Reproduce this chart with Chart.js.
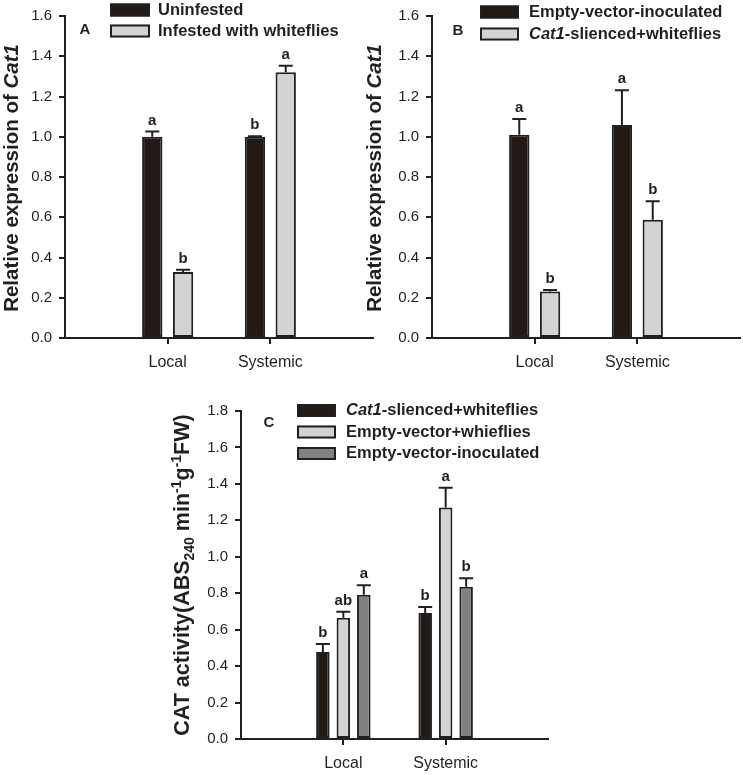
<!DOCTYPE html>
<html>
<head>
<meta charset="utf-8">
<script src="https://cdn.jsdelivr.net/npm/chart.js@4.4.0/dist/chart.umd.min.js"></script>
<style>
  body { margin: 0; background: #fff; }
  #wrap { position: relative; width: 743px; height: 775px; overflow: hidden; }
  canvas { position: absolute; }
</style>
</head>
<body>
<div id="wrap">
  <canvas id="chartA" width="375" height="375" style="left:0px;top:0px"></canvas>
  <canvas id="chartB" width="393" height="375" style="left:350px;top:0px"></canvas>
  <canvas id="chartC" width="400" height="405" style="left:160px;top:370px"></canvas>
</div>
<script>
const categories = ['Local', 'Systemic'];
const ticksAB = [0.0, 0.2, 0.4, 0.6, 0.8, 1.0, 1.2, 1.4, 1.6];
const ticksC = [0.0, 0.2, 0.4, 0.6, 0.8, 1.0, 1.2, 1.4, 1.6, 1.8];

// panel A
const aUninfested = [1.00, 1.00];
const aUninfestedErr = [0.026, 0.002];
const aUninfestedSig = ['a', 'b'];
const aInfested = [0.328, 1.320];
const aInfestedErr = [0.011, 0.033];
const aInfestedSig = ['b', 'a'];

// panel B
const bEmpty = [1.010, 1.059];
const bEmptyErr = [0.078, 0.172];
const bEmptySig = ['a', 'a'];
const bSilenced = [0.231, 0.587];
const bSilencedErr = [0.007, 0.092];
const bSilencedSig = ['b', 'b'];

// panel C
const cSilenced = [0.477, 0.692];
const cSilencedErr = [0.044, 0.033];
const cSilencedSig = ['b', 'b'];
const cEmptyWf = [0.665, 1.270];
const cEmptyWfErr = [0.033, 0.109];
const cEmptyWfSig = ['ab', 'a'];
const cEmptyInoc = [0.791, 0.836];
const cEmptyInocErr = [0.053, 0.046];
const cEmptyInocSig = ['a', 'b'];

const FONT = '"Liberation Sans", Arial, sans-serif';
const INK = '#231f20';
const BLACK = '#211a17';
const LIGHT = '#d3d3d3';
const DARK = '#818181';

function points(vals) {
  return vals.map((v, i) => ({ x: i + 1, y: v }));
}

function dataset(vals, errs, sig, fill) {
  return {
    data: points(vals),
    errors: errs,
    letters: sig,
    backgroundColor: fill,
    borderColor: INK,
    borderWidth: 2,
    borderSkipped: false,
    categoryPercentage: 0.6,
    barPercentage: 0.66
  };
}

// half error bars (upward) + significance letters
const errorBars = {
  id: 'errorBars',
  afterDatasetsDraw(chart) {
    const ctx = chart.ctx;
    const y = chart.scales.y;
    chart.data.datasets.forEach((ds, di) => {
      chart.getDatasetMeta(di).data.forEach((bar, i) => {
        const top = y.getPixelForValue(ds.data[i].y + ds.errors[i]);
        ctx.save();
        ctx.strokeStyle = INK;
        ctx.lineWidth = 2;
        ctx.beginPath();
        ctx.moveTo(bar.x, bar.y);
        ctx.lineTo(bar.x, top);
        ctx.moveTo(bar.x - 7, top);
        ctx.lineTo(bar.x + 7, top);
        ctx.stroke();
        ctx.fillStyle = INK;
        ctx.font = 'bold 15px ' + FONT;
        ctx.textAlign = 'center';
        ctx.textBaseline = 'alphabetic';
        ctx.fillText(ds.letters[i], bar.x, top - 7);
        ctx.restore();
      });
    });
  }
};

function drawRuns(ctx, runs, x, y, center) {
  let total = 0;
  runs.forEach(r => { ctx.font = r.font; r.w = ctx.measureText(r.text).width; total += r.w; });
  let cx = center ? x - total / 2 : x;
  runs.forEach(r => {
    ctx.font = r.font;
    ctx.fillText(r.text, cx, y + (r.dy || 0));
    cx += r.w;
  });
}

function makeDecor(cfg) {
  return {
    id: 'decor',
    afterDraw(chart) {
      const ctx = chart.ctx;
      ctx.save();
      ctx.fillStyle = INK;
      ctx.textAlign = 'left';
      // legend
      ctx.textBaseline = 'middle';
      cfg.legend.forEach(item => {
        ctx.fillStyle = item.fill;
        ctx.fillRect(cfg.boxX, item.y - 6.5, cfg.boxW, 13);
        ctx.strokeStyle = INK;
        ctx.lineWidth = 2;
        ctx.strokeRect(cfg.boxX + 1, item.y - 5.5, cfg.boxW - 2, 11);
        ctx.fillStyle = INK;
        drawRuns(ctx, item.runs, cfg.textX, item.y, false);
      });
      // panel letter
      ctx.font = 'bold 15px ' + FONT;
      ctx.textAlign = 'center';
      ctx.fillText(cfg.panel, cfg.panelX, cfg.panelY);
      // y title
      ctx.textAlign = 'left';
      ctx.textBaseline = 'alphabetic';
      ctx.translate(cfg.titleX, cfg.titleY);
      ctx.rotate(-Math.PI / 2);
      drawRuns(ctx, cfg.title, 0, 0, true);
      ctx.restore();
    }
  };
}

const B16 = 'bold 16.5px ' + FONT;
const BI16 = 'italic bold 16.5px ' + FONT;
const B20 = 'bold 20.5px ' + FONT;
const BI20 = 'italic bold 20.5px ' + FONT;
const B21 = 'bold 21.5px ' + FONT;
const S14 = 'bold 14px ' + FONT;

function makeChart(id, datasets, yTicks, yWidth, pad, xHeight, decor) {
  const ctx = document.getElementById(id).getContext('2d');
  return new Chart(ctx, {
    type: 'bar',
    data: { datasets: datasets },
    options: {
      responsive: false,
      animation: false,
      devicePixelRatio: 1,
      layout: { padding: pad },
      plugins: { legend: { display: false }, tooltip: { enabled: false } },
      scales: {
        x: {
          type: 'linear',
          offset: false,
          min: 0,
          max: 3,
          afterBuildTicks: s => { s.ticks = categories.map((c, i) => ({ value: i + 1 })); },
          afterFit: s => { s.height = xHeight; },
          ticks: {
            autoSkip: false,
            maxRotation: 0,
            padding: 9,
            color: INK,
            font: { family: FONT, size: 16 },
            callback: v => categories[v - 1] || ''
          },
          grid: { offset: false, drawOnChartArea: false, tickLength: 6, color: INK, lineWidth: 2 },
          border: { color: INK, width: 2 }
        },
        y: {
          min: yTicks[0],
          max: yTicks[yTicks.length - 1],
          afterBuildTicks: s => { s.ticks = yTicks.map(v => ({ value: v })); },
          afterFit: s => { s.width = yWidth; },
          ticks: {
            padding: 7,
            color: INK,
            font: { family: FONT, size: 15 },
            callback: v => v.toFixed(1)
          },
          grid: { drawOnChartArea: false, tickLength: 6, color: INK, lineWidth: 2 },
          border: { color: INK, width: 2 }
        }
      }
    },
    plugins: [errorBars, makeDecor(decor)]
  });
}

makeChart('chartA', [
  dataset(aUninfested, aUninfestedErr, aUninfestedSig, BLACK),
  dataset(aInfested, aInfestedErr, aInfestedSig, LIGHT)
], ticksAB, 65, { top: 10, right: 2, left: 0, bottom: 0 }, 37, {
  boxX: 110, boxW: 40, textX: 158,
  legend: [
    { fill: BLACK, y: 10, runs: [{ text: 'Uninfested', font: B16 }] },
    { fill: LIGHT, y: 31, runs: [{ text: 'Infested with whiteflies', font: B16 }] }
  ],
  panel: 'A', panelX: 85, panelY: 30,
  titleX: 18, titleY: 178,
  title: [{ text: 'Relative expression of ', font: B20 }, { text: 'Cat1', font: BI20 }]
});

makeChart('chartB', [
  dataset(bEmpty, bEmptyErr, bEmptySig, BLACK),
  dataset(bSilenced, bSilencedErr, bSilencedSig, LIGHT)
], ticksAB, 82, { top: 10, right: 3, left: 0, bottom: 0 }, 37, {
  boxX: 130, boxW: 39, textX: 179,
  legend: [
    { fill: BLACK, y: 12, runs: [{ text: 'Empty-vector-inoculated', font: B16 }] },
    { fill: LIGHT, y: 34, runs: [{ text: 'Cat1', font: BI16 }, { text: '-slienced+whiteflies', font: B16 }] }
  ],
  panel: 'B', panelX: 108, panelY: 31,
  titleX: 31, titleY: 178,
  title: [{ text: 'Relative expression of ', font: B20 }, { text: 'Cat1', font: BI20 }]
});

makeChart('chartC', [
  dataset(cSilenced, cSilencedErr, cSilencedSig, BLACK),
  dataset(cEmptyWf, cEmptyWfErr, cEmptyWfSig, LIGHT),
  dataset(cEmptyInoc, cEmptyInocErr, cEmptyInocSig, DARK)
], ticksC, 81, { top: 41, right: 12, left: 0, bottom: 0 }, 36, {
  boxX: 137, boxW: 39, textX: 186,
  legend: [
    { fill: BLACK, y: 40.5, runs: [{ text: 'Cat1', font: BI16 }, { text: '-slienced+whiteflies', font: B16 }] },
    { fill: LIGHT, y: 62, runs: [{ text: 'Empty-vector+whieflies', font: B16 }] },
    { fill: DARK, y: 83.5, runs: [{ text: 'Empty-vector-inoculated', font: B16 }] }
  ],
  panel: 'C', panelX: 109, panelY: 53,
  titleX: 29, titleY: 205,
  title: [
    { text: 'CAT activity(ABS', font: B21 },
    { text: '240', font: S14, dy: 5 },
    { text: ' min', font: B21 },
    { text: '-1', font: S14, dy: -8 },
    { text: 'g', font: B21 },
    { text: '-1', font: S14, dy: -8 },
    { text: 'FW)', font: B21 }
  ]
});
</script>
</body>
</html>
